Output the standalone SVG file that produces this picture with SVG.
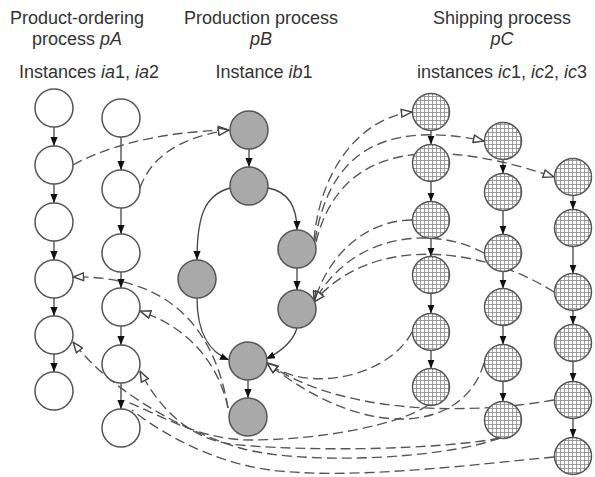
<svg xmlns="http://www.w3.org/2000/svg" width="595" height="477" viewBox="0 0 595 477">
<defs>
<style>
.t{font-family:"Liberation Sans",Arial,sans-serif;font-size:18px;fill:#333;text-anchor:middle}
.i{font-style:italic}
.na{fill:#fff;stroke:#555;stroke-width:1.5}
.nb{fill:#a9a9a9;stroke:#555;stroke-width:1.5}
.nc{fill:url(#grid);stroke:#555;stroke-width:1.5}
.s{fill:none;stroke:#444;stroke-width:1.3;marker-end:url(#ah)}
.d{fill:none;stroke:#555;stroke-width:1.35;stroke-dasharray:10 5}
.da{marker-end:url(#ho)}
</style>
<pattern id="grid" width="4" height="4" patternUnits="userSpaceOnUse">
<rect width="4" height="4" fill="#fff"/>
<path d="M0,0.5H4M0.5,0V4" stroke="#888" stroke-width="0.8"/>
</pattern>
<marker id="ah" viewBox="0 0 10 8" refX="10" refY="4" markerWidth="9" markerHeight="7.2" orient="auto" markerUnits="userSpaceOnUse">
<path d="M0,0L10,4L0,8z" fill="#111"/>
</marker>
<marker id="ho" viewBox="0 0 10 8" refX="9.6" refY="4" markerWidth="12" markerHeight="9.6" orient="auto" markerUnits="userSpaceOnUse">
<path d="M0.8,0.8L9.4,4L0.8,7.2z" fill="#fff" stroke="#444" stroke-width="1.2" stroke-dasharray="none"/>
</marker>
</defs>
<rect width="595" height="477" fill="#fff"/>

<g id="titles">
<text class="t" x="77" y="24">Product-ordering</text>
<text class="t" x="77" y="45">process <tspan class="i">pA</tspan></text>
<text class="t" x="89" y="78">Instances <tspan class="i">ia</tspan>1, <tspan class="i">ia</tspan>2</text>
<text class="t" x="261" y="24">Production process</text>
<text class="t" x="261" y="45"><tspan class="i">pB</tspan></text>
<text class="t" x="264" y="78">Instance <tspan class="i">ib</tspan>1</text>
<text class="t" x="502" y="24">Shipping process</text>
<text class="t" x="502" y="45"><tspan class="i">pC</tspan></text>
<text class="t" x="502" y="78">instances <tspan class="i">ic</tspan>1, <tspan class="i">ic</tspan>2, <tspan class="i">ic</tspan>3</text>
</g>

<g id="connectors">
<path class="s" d="M54,127V146"/><path class="s" d="M54,184V203"/><path class="s" d="M54,241V260"/><path class="s" d="M54,298V316"/><path class="s" d="M54,354V372"/>
<path class="s" d="M121,137V170"/><path class="s" d="M121,208V234"/><path class="s" d="M121,272V288"/><path class="s" d="M121,326V345"/><path class="s" d="M121,383V409"/>
<path class="s" d="M249,149V167"/>
<path class="s" d="M230,188C205,195 197,215 197,260"/>
<path class="s" d="M268,188C290,192 297,210 297,230"/>
<path class="s" d="M297,268V290"/>
<path class="s" d="M197,298C197,335 210,352 229,360"/>
<path class="s" d="M297,328C293,342 280,352 266,359"/>
<path class="s" d="M248,380V398"/>
<path class="s" d="M431,130.5V144.5"/><path class="s" d="M431,181.5V201.5"/><path class="s" d="M431,238.5V256.5"/><path class="s" d="M431,293.5V313.5"/><path class="s" d="M431,350.5V368.5"/>
<path class="s" d="M503,159.5V173.5"/><path class="s" d="M503,210.5V234.5"/><path class="s" d="M503,271.5V288.5"/><path class="s" d="M503,325.5V344.5"/><path class="s" d="M503,381.5V401.5"/>
<path class="s" d="M573,195.5V209.5"/><path class="s" d="M573,246.5V273.5"/><path class="s" d="M573,310.5V324.5"/><path class="s" d="M573,361.5V381.5"/><path class="s" d="M573,418.5V437.5"/>
<path class="d da" d="M73,165C100,150 150,132 229,130"/>
<path class="d da" d="M140,188C150,160 175,138 229,130"/>
<path class="d da" d="M314,240C320,170 360,118 412,112"/>
<path class="d da" d="M315,241C328,160 375,118 484,141"/>
<path class="d da" d="M316,242C335,165 400,125 554,177"/>
<path class="d da" d="M412,220C370,220 330,250 314,302"/>
<path class="d da" d="M484,253C440,228 355,228 314,302"/>
<path class="d da" d="M554,292C480,245 370,235 314,302"/>
<path class="d da" d="M412,332C390,375 310,395 267,363"/>
<path class="d da" d="M554,400C470,415 340,415 267,363"/>
<path class="d da" d="M484,363C465,430 370,445 267,363"/>
<path class="d da" d="M228,408C215,330 170,275 73,277"/>
<path class="d da" d="M228,408C220,370 195,330 140,311"/>
<path class="d da" d="M500,438C440,460 300,465 240,448C180,430 110,390 73,342"/>
<path class="d da" d="M500,438C440,450 300,452 230,444C190,438 160,410 140,371"/>
<path class="d" d="M428,405C400,425 320,440 250,440C200,440 160,415 125,401"/>
<path class="d" d="M554,457C470,465 350,480 270,470C220,463 170,440 132,410"/>
</g>

<g id="pA-ia1">
<circle class="na" cx="54" cy="108" r="19"/><circle class="na" cx="54" cy="165" r="19"/><circle class="na" cx="54" cy="222" r="19"/><circle class="na" cx="54" cy="279" r="19"/><circle class="na" cx="54" cy="335" r="19"/><circle class="na" cx="54" cy="391" r="19"/>
</g>
<g id="pA-ia2">
<circle class="na" cx="121" cy="118" r="19"/><circle class="na" cx="121" cy="189" r="19"/><circle class="na" cx="121" cy="253" r="19"/><circle class="na" cx="121" cy="307" r="19"/><circle class="na" cx="121" cy="364" r="19"/><circle class="na" cx="121" cy="428" r="19"/>
</g>
<g id="pB-ib1">
<circle class="nb" cx="249" cy="130" r="19"/><circle class="nb" cx="249" cy="186" r="19"/><circle class="nb" cx="197" cy="279" r="19"/><circle class="nb" cx="297" cy="249" r="19"/><circle class="nb" cx="297" cy="309" r="19"/><circle class="nb" cx="248" cy="361" r="19"/><circle class="nb" cx="248" cy="417" r="19"/>
</g>
<g id="pC-ic1">
<circle class="nc" cx="431" cy="112" r="18.5"/><circle class="nc" cx="431" cy="163" r="18.5"/><circle class="nc" cx="431" cy="220" r="18.5"/><circle class="nc" cx="431" cy="275" r="18.5"/><circle class="nc" cx="431" cy="332" r="18.5"/><circle class="nc" cx="431" cy="387" r="18.5"/>
</g>
<g id="pC-ic2">
<circle class="nc" cx="503" cy="141" r="18.5"/><circle class="nc" cx="503" cy="192" r="18.5"/><circle class="nc" cx="503" cy="253" r="18.5"/><circle class="nc" cx="503" cy="307" r="18.5"/><circle class="nc" cx="503" cy="363" r="18.5"/><circle class="nc" cx="503" cy="420" r="18.5"/>
</g>
<g id="pC-ic3">
<circle class="nc" cx="573" cy="177" r="18.5"/><circle class="nc" cx="573" cy="228" r="18.5"/><circle class="nc" cx="573" cy="292" r="18.5"/><circle class="nc" cx="573" cy="343" r="18.5"/><circle class="nc" cx="573" cy="400" r="18.5"/><circle class="nc" cx="573" cy="456" r="18.5"/>
</g>
</svg>
